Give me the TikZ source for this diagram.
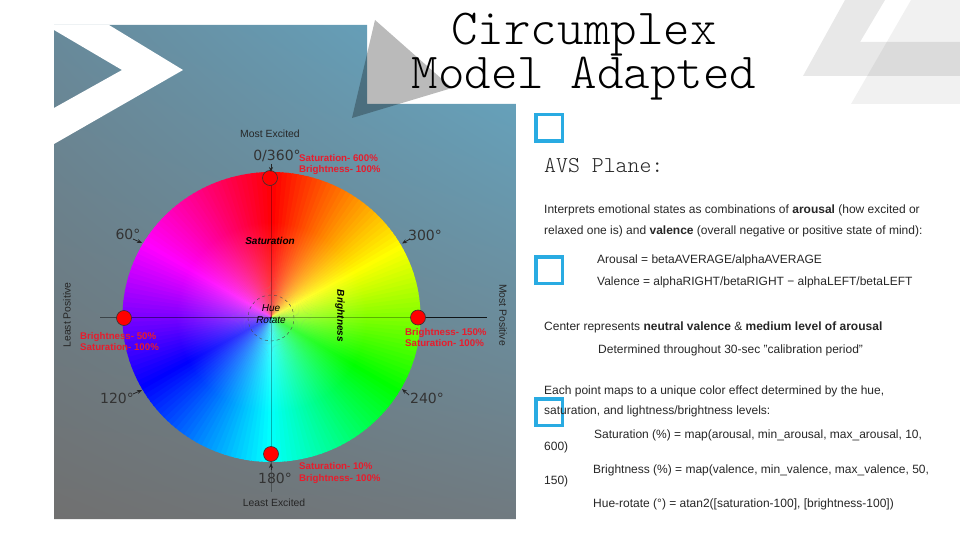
\documentclass[tikz,border=0pt]{standalone}
\usepackage{fontspec}
\setmainfont{Liberation Sans}
\newfontfamily\monofont{Latin Modern Mono Light}
\newfontfamily\degfont{DejaVu Sans}
\usetikzlibrary{shadings,fadings,arrows.meta}

\definecolor{bulletblue}{HTML}{29ABE2}
\definecolor{labelred}{HTML}{E81C2C}
\definecolor{bodygrey}{HTML}{262626}
\definecolor{panelul}{RGB}{104,138,155}
\definecolor{panelur}{RGB}{100,168,197}
\definecolor{panelll}{RGB}{112,112,112}
\definecolor{panellr}{RGB}{112,122,128}

\tikzfading[name=hubfade, inner color=transparent!68, outer color=transparent!100]

\tikzset{
  titletext/.style={align=center, inner sep=0, font=\monofont\fontsize{50.5}{41}\selectfont, text=black},
  bodytext/.style={anchor=base west, inner sep=0, font=\fontsize{12}{14}\selectfont, text=bodygrey},
  bulletbox/.style={draw=bulletblue, line width=3.5pt, minimum size=26.5pt, inner sep=0},
  redtext/.style={anchor=base west, inner sep=0, font=\bfseries\fontsize{9.7}{11}\selectfont, text=labelred},
  axistext/.style={inner sep=0, font=\fontsize{10.4}{12}\selectfont, text=black!85},
  degtext/.style={inner sep=0, font=\degfont\fontsize{14}{16}\selectfont, text=black!80},
  wheeltext/.style={inner sep=0, font=\bfseries\itshape\fontsize{10}{12}\selectfont, text=black},
  redspot/.style={circle, draw=black!80, line width=.6pt, fill=red, minimum size=15pt, inner sep=0},
  degarrow/.style={-{Stealth[length=5pt,width=4pt]}, line width=.8pt, draw=black!85},
}

\begin{document}
\begin{tikzpicture}[x=1pt,y=-1pt]
  \pgfmathsetmacro{\rx}{149}
  \pgfmathsetmacro{\ry}{145}
  \useasboundingbox (0,0) rectangle (960,540);

  % photo panel
  \shade[upper left=panelul, upper right=panelur, lower left=panelll, lower right=panellr]
    (54,25) -- (367,25) -- (367,104) -- (516,104) -- (516,519) -- (54,519) -- cycle;
  \fill[white] (54,25) -- (109,25) -- (183,70) -- (54,144) -- (54,108) -- (122,70) -- (54,30) -- cycle;

  % corner shapes
  \fill[black,opacity=.27] (375,20) -- (452,88) -- (352,118) -- cycle;
  \fill[black,opacity=.09] (845,0) -- (885,0) -- (860,42) -- (960,42) -- (960,76) -- (803,76) -- cycle;
  \fill[black,opacity=.055] (911,0) -- (960,0) -- (960,104) -- (851,104) -- cycle;

  % colour wheel
  \coordinate (W) at (271.5,317);
  \foreach \hue in {0,2,...,358} {
    \pgfmathsetmacro{\ang}{\hue-90}
    \definecolor{wedgecol}{Hsb}{\hue,1,1}
    \fill[wedgecol] (W) -- ++(\ang:{\rx} and {\ry}) arc[start angle=\ang, delta angle=2.6, x radius=\rx, y radius=\ry] -- cycle;
  }
  \fill[white,path fading=hubfade] (W) circle[radius=95];

  % axes
  \coordinate (Al) at (100,317);
  \coordinate (Ar) at (487,317);
  \coordinate (At) at (271,176);
  \coordinate (Ab) at (271,492);
  \draw[black,opacity=.45,line width=.5pt] (Al) -- (W);
  \draw[black,opacity=.3,line width=.5pt] (W) -- (418,317);
  \draw[black,opacity=.85,line width=.6pt] (418,317) -- (Ar);
  \draw[black,opacity=.3,line width=.5pt] (At) -- (Ab);
  \node[circle,draw=black!70,dashed,line width=.4pt,minimum size=46pt,inner sep=0] (H) at (271,318) {};

  % red spots
  \node[redspot] (S0) at (270,178) {};
  \node[redspot] (S1) at (124,318) {};
  \node[redspot] (S2) at (418,317.5) {};
  \node[redspot] (S3) at (271,454) {};

  % degree marks
  \node[degtext] (D0) at (277,156) {0/360°};
  \node[degtext] (D60) at (128,234) {60°};
  \node[degtext] (D300) at (425,235) {300°};
  \node[degtext] (D120) at (117,398) {120°};
  \node[degtext] (D240) at (427,398) {240°};
  \node[degtext] (D180) at (275,478) {180°};
  \coordinate (A0a) at (271,164);
  \coordinate (A0b) at (271,172);
  \coordinate (A60a) at (133,239);
  \coordinate (A60b) at (142,243);
  \coordinate (A300a) at (410,239);
  \coordinate (A300b) at (402,243.5);
  \coordinate (A120a) at (133,394);
  \coordinate (A120b) at (142,390);
  \coordinate (A240a) at (409,395);
  \coordinate (A240b) at (402,389);
  \coordinate (A180a) at (271,470);
  \coordinate (A180b) at (271,463);
  \draw[degarrow] (A0a) -- (A0b);
  \draw[degarrow] (A60a) -- (A60b);
  \draw[degarrow] (A300a) -- (A300b);
  \draw[degarrow] (A120a) -- (A120b);
  \draw[degarrow] (A240a) -- (A240b);
  \draw[degarrow] (A180a) -- (A180b);

  % wheel labels
  \node[axistext] (ME) at (270,134) {Most Excited};
  \node[axistext] (LE) at (274,503) {Least Excited};
  \node[axistext,rotate=90] (LP) at (67,315) {Least Positive};
  \node[axistext,rotate=-90] (MP) at (503,315) {Most Positive};
  \node[wheeltext] (Sat) at (270,241) {Saturation};
  \node[wheeltext,rotate=-90] (Bri) at (340,316) {Brightness};
  \node[wheeltext,font=\itshape\fontsize{10}{12}\selectfont] (Hu) at (271,308) {Hue};
  \node[wheeltext,font=\itshape\fontsize{10}{12}\selectfont] (Ro) at (271,320) {Rotate};

  \node[redtext] (R0a) at (299,161) {Saturation- 600\%};
  \node[redtext] (R0b) at (299,173) {Brightness- 100\%};
  \node[redtext] (R1a) at (80,339) {Brightness- 50\%};
  \node[redtext] (R1b) at (80,350) {Saturation- 100\%};
  \node[redtext] (R2a) at (405,335) {Brightness- 150\%};
  \node[redtext] (R2b) at (405,346) {Saturation- 100\%};
  \node[redtext] (R3a) at (299,469) {Saturation- 10\%};
  \node[redtext] (R3b) at (299,481) {Brightness- 100\%};

  % title
  \node[titletext] (T1) at (584,57) {Circumplex\\Model Adapted};

  % bullets
  \node[bulletbox] (B1) at (549,128) {};
  \node[bulletbox] (B2) at (549,270) {};
  \node[bulletbox] (B3) at (549,412) {};

  % text
  \node[bodytext,font=\monofont\fontsize{22.7}{24}\selectfont] (P0) at (544,173) {AVS Plane:};
  \node[bodytext] (P1) at (544,213) {Interprets emotional states as combinations of \textbf{arousal} (how excited or};
  \node[bodytext] (P2) at (544,234) {relaxed one is) and \textbf{valence} (overall negative or positive state of mind):};
  \node[bodytext] (P3) at (597,263) {Arousal = betaAVERAGE/alphaAVERAGE};
  \node[bodytext] (P4) at (597,285) {Valence = alphaRIGHT/betaRIGHT − alphaLEFT/betaLEFT};
  \node[bodytext] (P5) at (544,330) {Center represents \textbf{neutral valence} \& \textbf{medium level of arousal}};
  \node[bodytext] (P6) at (598,353) {Determined throughout 30-sec "calibration period"};
  \node[bodytext] (P7) at (544,394) {Each point maps to a unique color effect determined by the hue,};
  \node[bodytext] (P8) at (544,414) {saturation, and lightness/brightness levels:};
  \node[bodytext] (P9) at (594,438) {Saturation (\%) = map(arousal, min\_arousal, max\_arousal, 10,};
  \node[bodytext] (P10) at (544,450) {600)};
  \node[bodytext] (P11) at (593,473) {Brightness (\%) = map(valence, min\_valence, max\_valence, 50,};
  \node[bodytext] (P12) at (544,484) {150)};
  \node[bodytext] (P13) at (593,507) {Hue-rotate (°) = atan2([saturation-100], [brightness-100])};
\end{tikzpicture}
\end{document}
